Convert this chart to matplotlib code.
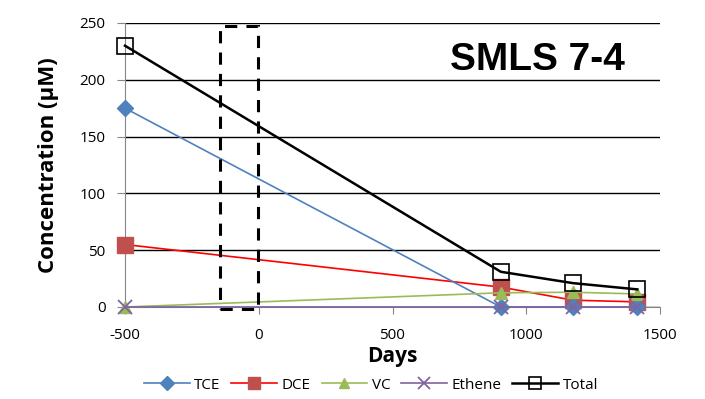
import matplotlib
matplotlib.use("Agg")
import matplotlib.pyplot as plt
from matplotlib.patches import Rectangle

days = [-500, 905, 1175, 1415]
tce = [175, 0, 0, 0]
dce = [55, 17.5, 6, 4.5]
vc = [0, 12.5, 13, 11.5]
ethene = [0, 0, 0, 0]
total = [230, 31, 21, 15.5]

plt.rcParams["font.family"] = ["Open Sans", "DejaVu Sans"]
plt.rcParams["axes.unicode_minus"] = False

fig = plt.figure(figsize=(7.05, 3.99), dpi=100)
ax = fig.add_axes([125 / 705, 1 - 307 / 399, 535 / 705, 284 / 399])

kw = dict(lw=1.2, clip_on=False)
ax.plot(days, tce, color="#4f81bd", marker="D", ms=8, mfc="#4f81bd", mec="#4f81bd", label="TCE", zorder=4, **kw)
ax.plot(days, dce, color="#ff0000", marker="s", ms=11, mfc="#c0504d", mec="#c0504d", label="DCE", zorder=3, **kw)
ax.plot(days, vc, color="#9bbb59", marker="^", ms=9, mfc="#9bbb59", mec="#9bbb59", label="VC", zorder=4, **kw)
ax.plot(days, ethene, color="#8064a2", marker="x", ms=10, mew=1.3, label="Ethene", zorder=5, **kw)
ax.plot(days, total, color="black", lw=1.8, marker="s", ms=11, mfc="none", mec="black", mew=1.2,
        label="Total", zorder=6, clip_on=False)

# dashed box
ax.add_patch(Rectangle((-145, -2), 142, 249, fill=False, ls=(0, (4, 3)), lw=2.2, ec="black", zorder=7, clip_on=False))

ax.set_xlim(-500, 1500)
ax.set_ylim(0, 250)
ax.set_xticks([-500, 0, 500, 1000, 1500])
ax.set_yticks([0, 50, 100, 150, 200, 250])
ax.yaxis.grid(True, color="black", lw=1)
ax.set_axisbelow(True)
for s in ["top", "right"]:
    ax.spines[s].set_visible(False)
ax.spines["left"].set_color("#868686")
ax.spines["bottom"].set_color("#868686")
ax.tick_params(axis="both", colors="#868686", labelcolor="black", labelsize=11, length=5)
ax.tick_params(axis="x", pad=10)
ax.tick_params(axis="y", length=6, pad=8)

ax.set_xlabel("Days", fontsize=15, fontweight="bold", labelpad=2)
ax.set_ylabel("Concentration (µM)", fontsize=16, fontweight="bold", labelpad=15)
ax.text(0.935, 0.87, "SMLS 7-4", transform=ax.transAxes, ha="right", va="center",
        fontsize=28, fontweight="bold", family="Liberation Sans")

ax.legend(loc="upper center", bbox_to_anchor=(0.46, -0.2), ncol=5, frameon=False,
          fontsize=11, handlelength=3, columnspacing=0.7, handletextpad=0.3, markerscale=0.85)

fig.savefig("out.png", dpi=100, facecolor="white")
